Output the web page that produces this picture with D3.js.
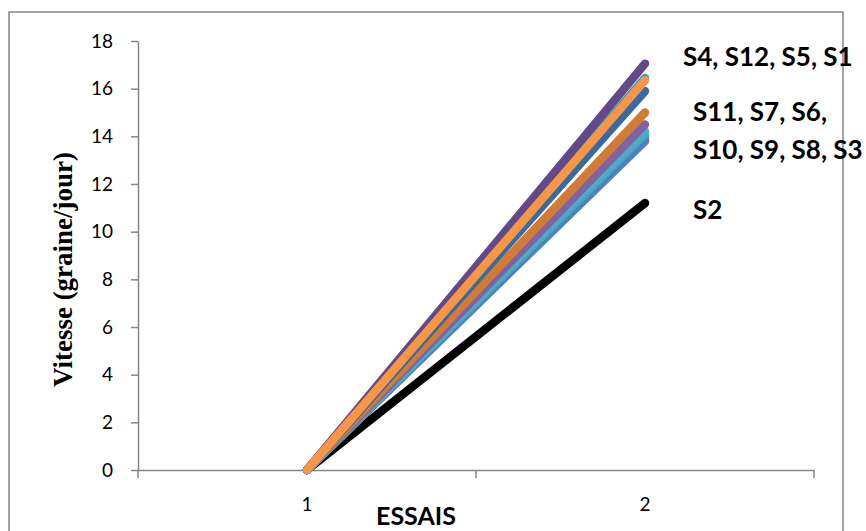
<!DOCTYPE html>
<html>
<head>
<meta charset="utf-8">
<script src="https://cdn.jsdelivr.net/npm/d3@7/dist/d3.min.js"></script>
<style>
  html, body { margin: 0; padding: 0; background: #ffffff; }
  svg { display: block; }
</style>
</head>
<body>
<svg id="chart" width="866" height="531"></svg>
<script>
// Trials on the x axis
const trials = ["1", "2"];

// Series, listed in drawing order (last one ends up on top)
const seriesNames = ["S2", "S3", "S8", "S9", "S10", "S6", "S7", "S11", "S1", "S12", "S4", "S5"];
const trial1Values = [0, 0, 0, 0, 0, 0, 0, 0, 0, 0, 0, 0];
const trial2Values = [11.2, 13.8, 14.0, 13.9, 14.1, 14.2, 14.5, 15.0, 15.9, 16.45, 17.05, 16.35];
const seriesColors = ["#000000", "#5086c4", "#9bbb59", "#4f81bd", "#4ba3c0", "#4bacc6", "#8064a2",
                      "#d07c36", "#3b69a0", "#31a2bb", "#634987", "#f79646"];

// Y axis ticks
const yTicks = [0, 2, 4, 6, 8, 10, 12, 14, 16, 18];

// Group annotations next to the line ends
const groupLabels = ["S4, S12, S5, S1", "S11, S7, S6,", "S10, S9, S8, S3", "S2"];
const groupLabelLevels = [17.33, 15.02, 13.43, 10.9];

const yTitle = "Vitesse (graine/jour)";
const xTitle = "ESSAIS";

const svg = d3.select("#chart");
const axisColor = "#868686";
const tickFont = "Lato, 'Open Sans', sans-serif";

// Chart frame
svg.append("rect")
  .attr("x", 9).attr("y", 12)
  .attr("width", 834).attr("height", 540)
  .attr("fill", "none")
  .attr("stroke", axisColor)
  .attr("stroke-width", 1.5);

const plot = { left: 138, right: 814, top: 41, bottom: 470 };

const x = d3.scaleBand().domain(trials).range([plot.left, plot.right]).padding(0);
const xc = d => x(d) + x.bandwidth() / 2;
const y = d3.scaleLinear().domain([0, 18]).range([plot.bottom, plot.top]);

// Y axis
const yAxis = svg.append("g")
  .attr("transform", `translate(${plot.left},0)`)
  .call(d3.axisLeft(y).tickValues(yTicks).tickSize(7).tickPadding(18).tickSizeOuter(0));
yAxis.select(".domain").attr("stroke", axisColor).attr("stroke-width", 1.5);
yAxis.selectAll(".tick line").attr("stroke", axisColor).attr("stroke-width", 1.5);
yAxis.selectAll(".tick text")
  .attr("fill", "#000")
  .style("font-family", tickFont)
  .style("font-size", "19px");

// X axis: labels centred on each category, tick marks at the category boundaries
const xAxis = svg.append("g")
  .attr("transform", `translate(0,${plot.bottom})`)
  .call(d3.axisBottom(x).tickSize(0).tickPadding(28).tickSizeOuter(0));
xAxis.select(".domain").attr("stroke", axisColor).attr("stroke-width", 1.5);
xAxis.selectAll(".tick text")
  .attr("fill", "#000")
  .style("font-family", tickFont)
  .style("font-size", "19px");

const boundaries = trials.map(t => x(t)).concat([x(trials[trials.length - 1]) + x.bandwidth()]);
xAxis.selectAll("line.boundary")
  .data(boundaries)
  .enter().append("line")
  .attr("class", "boundary")
  .attr("x1", d => d).attr("x2", d => d)
  .attr("y1", 0).attr("y2", 8)
  .attr("stroke", axisColor)
  .attr("stroke-width", 1.5);

// Series lines
const series = seriesNames.map((name, i) => ({
  name,
  color: seriesColors[i],
  values: [trial1Values[i], trial2Values[i]]
}));

const line = d3.line()
  .x((d, i) => xc(trials[i]))
  .y(d => y(d));

svg.append("g")
  .selectAll("path")
  .data(series)
  .enter().append("path")
  .attr("d", d => line(d.values))
  .attr("fill", "none")
  .attr("stroke", d => d.color)
  .attr("stroke-width", 8.5)
  .attr("stroke-linecap", "round")
  .attr("stroke-linejoin", "round");

// Group annotations
const labelX = [683, 693, 693, 693];
svg.append("g")
  .selectAll("text")
  .data(groupLabels)
  .enter().append("text")
  .attr("x", (d, i) => labelX[i])
  .attr("y", (d, i) => y(groupLabelLevels[i]))
  .attr("dy", "0.35em")
  .style("font-family", tickFont)
  .style("font-weight", "bold")
  .style("font-size", "26px")
  .attr("fill", "#000")
  .text(d => d);

// Axis titles
svg.append("text")
  .attr("transform", `translate(72,${(plot.top + plot.bottom) / 2 + 14}) rotate(-90)`)
  .attr("text-anchor", "middle")
  .style("font-family", "'Liberation Serif', 'Times New Roman', serif")
  .style("font-weight", "bold")
  .style("font-size", "27px")
  .attr("fill", "#000")
  .text(yTitle);

svg.append("text")
  .attr("x", 416)
  .attr("y", 525)
  .attr("text-anchor", "middle")
  .style("font-family", tickFont)
  .style("font-weight", "bold")
  .style("font-size", "25px")
  .attr("fill", "#000")
  .text(xTitle);
</script>
</body>
</html>
